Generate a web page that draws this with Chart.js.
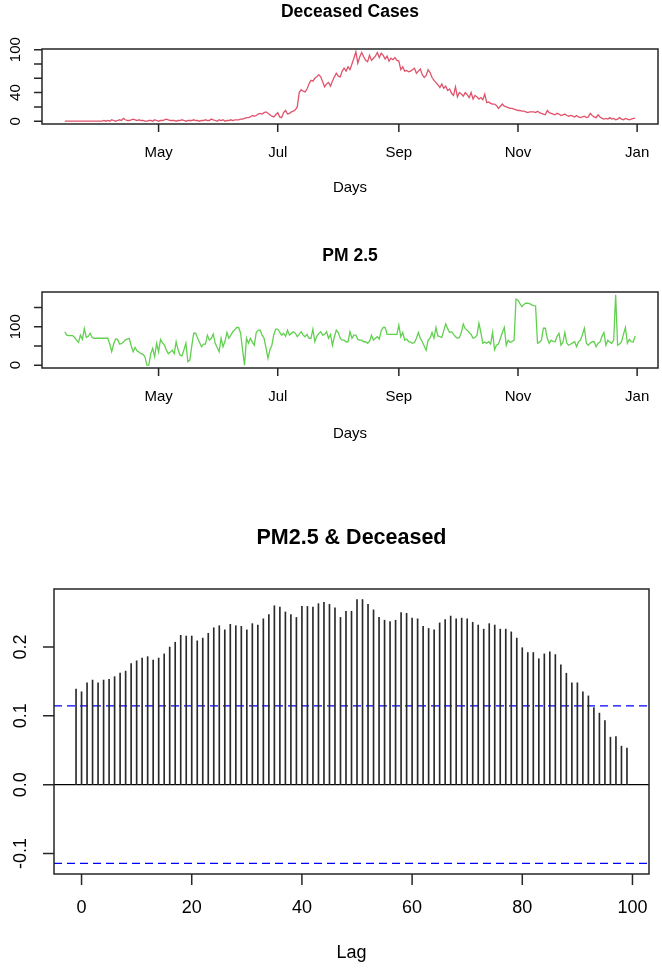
<!DOCTYPE html>
<html>
<head>
<meta charset="utf-8">
<title>Deceased Cases, PM 2.5 and their cross-correlation</title>
<script src="https://cdn.jsdelivr.net/npm/chart.js@4.4.1/dist/chart.umd.min.js"></script>
<style>
  body { margin: 0; background: #fff; }
  #wrap { position: relative; width: 662px; height: 973px; }
  canvas { position: absolute; left: 0; }
</style>
</head>
<body>
<div id="wrap">
  <canvas id="deceasedChart" width="662" height="230" style="top:0;width:662px;height:230px"></canvas>
  <canvas id="pmChart" width="662" height="230" style="top:230px;width:662px;height:230px"></canvas>
  <canvas id="ccfChart" width="662" height="513" style="top:460px;width:662px;height:513px"></canvas>
</div>
<script>
// x positions are day of year 2020, first value is 14 Mar
const firstDay = 74;
const monthTicks = [122, 183, 245, 306, 367];
const monthLabels = ['May', 'Jul', 'Sep', 'Nov', 'Jan'];

const deceasedTicks = [0, 20, 40, 60, 80, 100];
const deceasedTickLabels = ['0', '', '40', '', '', '100'];
const pmTicks = [0, 50, 100, 150];
const pmTickLabels = ['0', '', '100', ''];

const lagTicks = [0, 20, 40, 60, 80, 100];
const lagTickLabels = ['0', '20', '40', '60', '80', '100'];
const ccfTicks = [-0.1, 0, 0.1, 0.2];
const ccfTickLabels = ['-0.1', '0.0', '0.1', '0.2'];
const firstLag = -1;
const ciLevel = 0.1145;

// daily deceased cases, 14 Mar - 31 Dec
const deceased = [
  0, 0, 0, 0, 0, 0, 0, 0, 0, 0,
  0, 0, 0, 0, 0, 0, 0, 0, 0, 0,
  1, 0, 1, 0, 2, 1, 0, 1, 2, 1,
  4, 2, 1, 1, 2, 3, 2, 1, 2, 1,
  1, 0, 0, 1, 1, 0, 2, 1, 0, 1,
  1, 2, 3, 2, 1, 1, 1, 0, 1, 1,
  2, 1, 0, 1, 1, 1, 2, 1, 1, 0,
  1, 1, 2, 1, 1, 3, 2, 1, 0, 2,
  1, 2, 0, 1, 1, 2, 1, 2, 2, 2,
  3, 3, 4, 5, 5, 6, 8, 7, 8, 10,
  11, 10, 12, 13, 11, 9, 7, 6, 9, 12,
  6, 5, 12, 15, 10, 11, 13, 14, 16, 20,
  40, 44, 42, 41, 45, 52, 57, 56, 60, 62,
  65, 62, 55, 48, 52, 54, 49, 56, 62, 67,
  63, 62, 70, 74, 70, 76, 72, 80, 88, 97,
  81, 90, 96, 90, 85, 83, 92, 85, 88, 91,
  96, 89, 95, 92, 87, 91, 84, 88, 86, 89,
  85, 84, 72, 76, 70, 71, 69, 70, 72, 74,
  67, 70, 73, 65, 61, 64, 72, 68, 61, 57,
  54, 51, 47, 52, 46, 49, 43, 45, 39, 36,
  48, 34, 40, 38, 35, 40, 37, 33, 40, 31,
  36, 34, 31, 33, 30, 38, 26, 27, 25, 24,
  24, 22, 18, 21, 24, 21, 20, 19, 18, 18,
  17, 16, 15, 15, 14, 14, 13, 12, 13, 13,
  13, 12, 14, 12, 11, 10, 9, 15, 12, 11,
  10, 9, 11, 10, 8, 9, 10, 8, 7, 8,
  7, 6, 8, 6, 5, 6, 7, 5, 6, 11,
  8, 6, 5, 9, 6, 4, 3, 4, 3, 5,
  3, 4, 2, 3, 5, 3, 2, 4, 3, 2,
  3, 4, 4
];

// daily PM 2.5, same days
const pm25 = [
  87, 78, 77, 77, 77, 72, 65, 59, 78, 67,
  95, 72, 75, 83, 72, 70, 70, 70, 70, 70,
  70, 70, 70, 55, 35, 55, 68, 67, 55, 56,
  60, 66, 68, 70, 50, 35, 46, 37, 34, 30,
  28, 22, 0, 0, 30, 44, 22, 57, 35, 67,
  58, 52, 39, 30, 34, 39, 30, 61, 40, 26,
  24, 40, 57, 9, 13, 50, 83, 83, 70, 59,
  48, 55, 55, 78, 65, 70, 81, 57, 46, 35,
  70, 48, 62, 85, 70, 78, 87, 92, 98, 98,
  83, 40, 0, 70, 57, 70, 60, 52, 85, 91,
  91, 78, 70, 45, 18, 40, 52, 80, 94, 94,
  85, 78, 83, 75, 91, 78, 83, 87, 83, 74,
  80, 87, 78, 74, 80, 70, 70, 94, 61, 75,
  82, 87, 78, 80, 87, 70, 80, 52, 74, 91,
  85, 70, 65, 65, 61, 61, 87, 70, 78, 78,
  67, 65, 65, 61, 61, 57, 62, 78, 65, 70,
  74, 68, 90, 98, 98, 80, 80, 80, 80, 80,
  80, 104, 74, 85, 65, 68, 61, 60, 57, 59,
  70, 85, 70, 61, 50, 39, 65, 70, 85, 70,
  98, 76, 74, 72, 90, 107, 95, 85, 87, 80,
  74, 70, 72, 85, 107, 95, 91, 85, 80, 70,
  72, 78, 109, 85, 57, 60, 57, 61, 55, 85,
  40, 52, 55, 70, 85, 98, 52, 65, 59, 62,
  65, 172, 169, 160, 152, 158, 161, 161, 160, 157,
  155, 154, 57, 60, 65, 96, 96, 70, 57, 65,
  62, 61, 75, 83, 52, 60, 85, 57, 52, 55,
  58, 61, 48, 61, 65, 80, 96, 57, 52, 58,
  61, 61, 48, 57, 60, 75, 85, 52, 65, 60,
  57, 65, 183, 52, 55, 61, 80, 98, 57, 67,
  61, 60, 76
];

// cross-correlation PM2.5 vs deceased, lags -1 .. 99
const ccfValues = [
  0.139, 0.135, 0.148, 0.152, 0.148, 0.152, 0.153, 0.157, 0.162, 0.165,
  0.176, 0.180, 0.184, 0.186, 0.181, 0.184, 0.190, 0.200, 0.207, 0.217,
  0.216, 0.216, 0.209, 0.213, 0.220, 0.228, 0.231, 0.225, 0.233, 0.231,
  0.230, 0.225, 0.234, 0.232, 0.241, 0.247, 0.260, 0.258, 0.251, 0.247,
  0.243, 0.259, 0.259, 0.258, 0.263, 0.265, 0.262, 0.257, 0.243, 0.252,
  0.252, 0.269, 0.269, 0.262, 0.254, 0.243, 0.239, 0.237, 0.239, 0.250,
  0.249, 0.242, 0.241, 0.230, 0.227, 0.225, 0.235, 0.240, 0.245, 0.241,
  0.242, 0.241, 0.236, 0.232, 0.226, 0.234, 0.232, 0.226, 0.226, 0.222,
  0.213, 0.199, 0.192, 0.192, 0.183, 0.190, 0.193, 0.189, 0.174, 0.162,
  0.148, 0.148, 0.135, 0.129, 0.112, 0.104, 0.093, 0.069, 0.070, 0.056,
  0.053
];

const FONT = '"Liberation Sans", Arial, Helvetica, sans-serif';

// base R style axis range: data range plus 4% each side
function rRange(lo, hi) {
  const pad = (hi - lo) * 0.04;
  return [lo - pad, hi + pad];
}

// draws the R-like box, ticks, labels and titles around the chart area
const rFrame = {
  id: 'rFrame',
  afterDraw(chart, args, o) {
    const { ctx, chartArea: a } = chart;
    const x = chart.scales.x, y = chart.scales.y;
    ctx.save();
    ctx.strokeStyle = '#262626';
    ctx.lineWidth = 1.5;
    ctx.strokeRect(a.left, a.top, a.right - a.left, a.bottom - a.top);

    ctx.beginPath();
    o.xTicks.forEach(v => {
      const px = x.getPixelForValue(v);
      ctx.moveTo(px, a.bottom);
      ctx.lineTo(px, a.bottom + o.tick);
    });
    o.yTicks.forEach(v => {
      const py = y.getPixelForValue(v);
      ctx.moveTo(a.left, py);
      ctx.lineTo(a.left - o.tick, py);
    });
    ctx.stroke();

    ctx.fillStyle = '#000';
    ctx.textAlign = 'center';
    ctx.textBaseline = 'middle';
    ctx.font = o.size + 'px ' + FONT;
    o.xTicks.forEach((v, i) => {
      ctx.fillText(o.xLabels[i], x.getPixelForValue(v), a.bottom + o.xLabelOffset);
    });
    o.yTicks.forEach((v, i) => {
      if (!o.yLabels[i]) return;
      ctx.save();
      ctx.translate(a.left + o.yLabelOffset, y.getPixelForValue(v));
      ctx.rotate(-Math.PI / 2);
      ctx.fillText(o.yLabels[i], 0, 0);
      ctx.restore();
    });
    ctx.fillText(o.xTitle, (a.left + a.right) / 2, a.bottom + o.xTitleOffset);

    ctx.font = 'bold ' + o.titleSize + 'px ' + FONT;
    ctx.fillText(o.title, (a.left + a.right) / 2, a.top + o.titleOffset);
    ctx.restore();
  }
};

function timeSeriesChart(id, values, color, padding, frame) {
  const xr = rRange(firstDay, firstDay + values.length - 1);
  const yr = rRange(Math.min(...values), Math.max(...values));
  return new Chart(document.getElementById(id), {
    type: 'line',
    data: {
      datasets: [{
        data: values.map((v, i) => ({ x: firstDay + i, y: v })),
        borderColor: color,
        borderWidth: 1.3,
        pointRadius: 0,
        tension: 0
      }]
    },
    options: {
      responsive: false,
      animation: false,
      events: [],
      layout: { padding },
      scales: {
        x: { type: 'linear', display: false, min: xr[0], max: xr[1] },
        y: { type: 'linear', display: false, min: yr[0], max: yr[1] }
      },
      plugins: { legend: { display: false }, tooltip: { enabled: false }, rFrame: frame }
    },
    plugins: [rFrame]
  });
}

timeSeriesChart('deceasedChart', deceased, '#DF536B',
  { left: 42, top: 49, right: 4, bottom: 106 },
  {
    title: 'Deceased Cases', xTitle: 'Days',
    xTicks: monthTicks, xLabels: monthLabels,
    yTicks: deceasedTicks, yLabels: deceasedTickLabels,
    size: 15, titleSize: 17.5, tick: 8,
    xLabelOffset: 29, xTitleOffset: 64, titleOffset: -37, yLabelOffset: -26
  });

timeSeriesChart('pmChart', pm25, '#61D04F',
  { left: 42, top: 62, right: 4, bottom: 92 },
  {
    title: 'PM 2.5', xTitle: 'Days',
    xTicks: monthTicks, xLabels: monthLabels,
    yTicks: pmTicks, yLabels: pmTickLabels,
    size: 15, titleSize: 17.5, tick: 8,
    xLabelOffset: 29, xTitleOffset: 66, titleOffset: -36, yLabelOffset: -26
  });

// cross-correlation panel
const lagRange = rRange(firstLag, firstLag + ccfValues.length - 1);
const ccfRange = rRange(Math.min(-ciLevel, ...ccfValues), Math.max(ciLevel, ...ccfValues));
const hLine = (level, color, dash) => ({
  type: 'line',
  data: [{ x: lagRange[0], y: level }, { x: lagRange[1], y: level }],
  borderColor: color,
  borderWidth: 1.3,
  borderDash: dash,
  pointRadius: 0
});

new Chart(document.getElementById('ccfChart'), {
  type: 'bar',
  data: {
    datasets: [
      {
        type: 'bar',
        data: ccfValues.map((v, i) => ({ x: firstLag + i, y: v })),
        backgroundColor: '#2a2a2a',
        barThickness: 1,
        grouped: false
      },
      hLine(0, '#000', []),
      hLine(ciLevel, '#0000FF', [8, 5]),
      hLine(-ciLevel, '#0000FF', [8, 5])
    ]
  },
  options: {
    responsive: false,
    animation: false,
    events: [],
    layout: { padding: { left: 54, top: 129, right: 13, bottom: 99 } },
    scales: {
      x: { type: 'linear', display: false, offset: false, min: lagRange[0], max: lagRange[1] },
      y: { type: 'linear', display: false, min: ccfRange[0], max: ccfRange[1] }
    },
    plugins: {
      legend: { display: false },
      tooltip: { enabled: false },
      rFrame: {
        title: 'PM2.5 & Deceased', xTitle: 'Lag',
        xTicks: lagTicks, xLabels: lagTickLabels,
        yTicks: ccfTicks, yLabels: ccfTickLabels,
        size: 18, titleSize: 21.5, tick: 11,
        xLabelOffset: 34, xTitleOffset: 79, titleOffset: -51, yLabelOffset: -33
      }
    }
  },
  plugins: [rFrame]
});
</script>
</body>
</html>
